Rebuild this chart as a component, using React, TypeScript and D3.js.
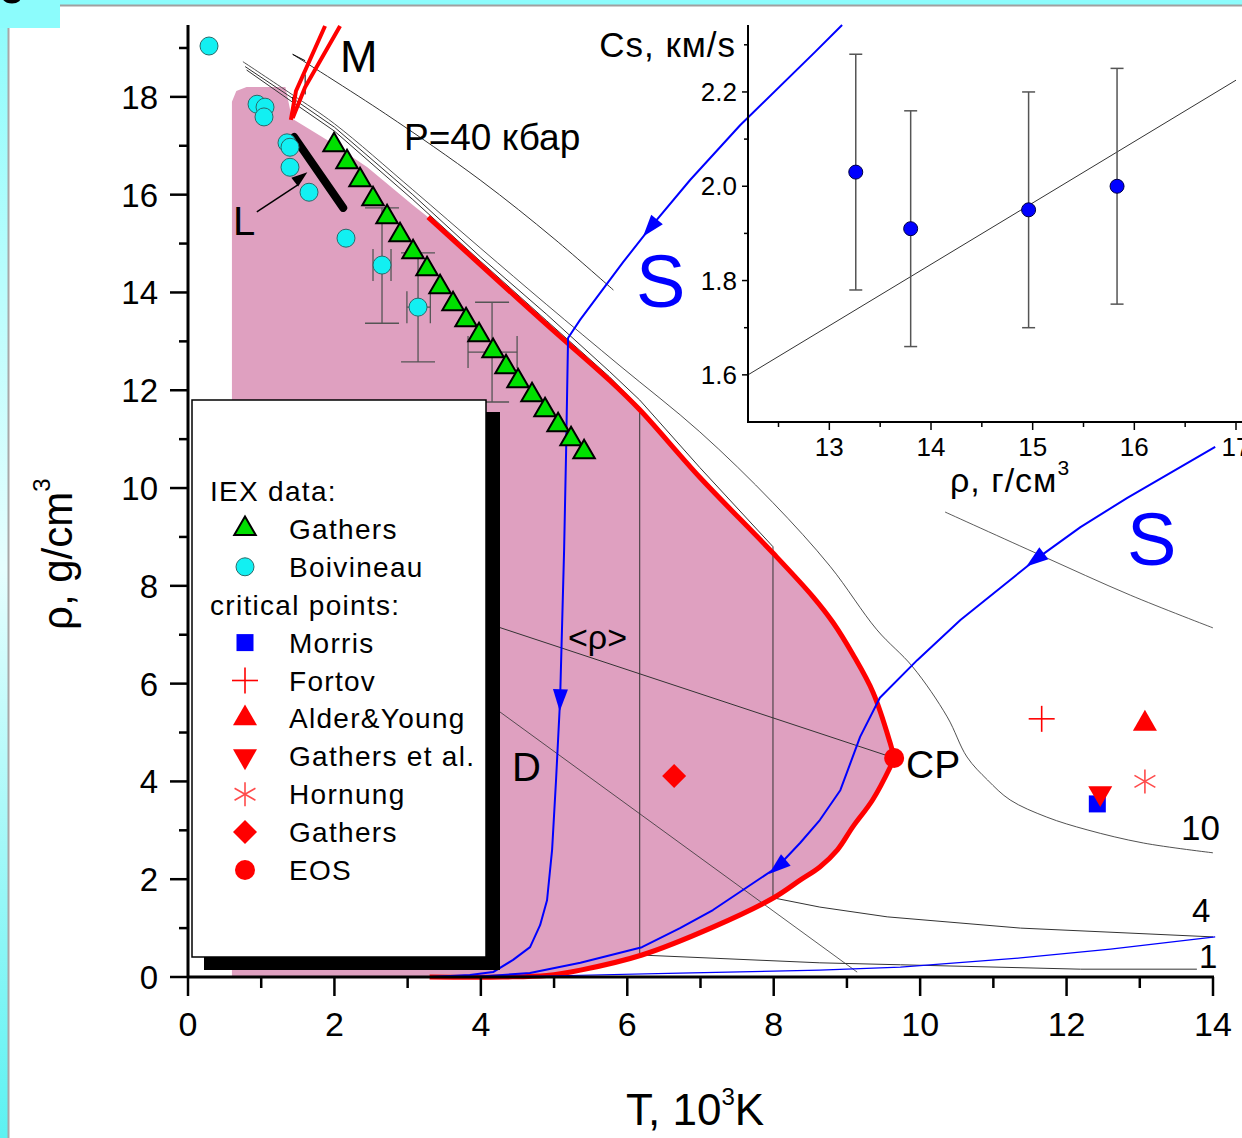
import React from 'react';
import * as d3 from 'd3';

const W = 1242;
const H = 1138;
const FONT = '"Liberation Sans", Arial, sans-serif';

// ---------- main axes ticks ----------
const xMajorTicks = [0, 2, 4, 6, 8, 10, 12, 14];
const xMinorTicks = [1, 3, 5, 7, 9, 11, 13];
const yMajorTicks = [0, 2, 4, 6, 8, 10, 12, 14, 16, 18];
const yMinorTicks = [1, 3, 5, 7, 9, 11, 13, 15, 17, 19];

// ---------- main data (T, 10^3 K ; rho, g/cm^3) ----------
const gathersIEX: [number, number][] = [
  [1.995, 17.055], [2.172, 16.708], [2.35, 16.339], [2.527, 15.951], [2.719, 15.583],
  [2.896, 15.215], [3.074, 14.867], [3.265, 14.519], [3.443, 14.151], [3.62, 13.804],
  [3.798, 13.476], [3.975, 13.17], [4.167, 12.843], [4.344, 12.515], [4.508, 12.229],
  [4.699, 11.943], [4.877, 11.636], [5.055, 11.329], [5.232, 11.043], [5.41, 10.777],
];

const boivineau: [number, number][] = [
  [0.287, 19.04], [0.943, 17.85], [1.052, 17.79], [1.038, 17.59], [1.352, 17.06],
  [1.393, 16.97], [1.393, 16.56], [1.653, 16.05], [2.158, 15.11], [2.65, 14.56], [3.142, 13.7],
];

// error bars: [T, rho, rhoLo, rhoHi, TLo, THi]
const boivErrors: [number, number, number, number, number, number][] = [
  [2.65, 14.56, 13.37, 15.73, 2.527, 2.773],
  [3.142, 13.7, 12.58, 14.81, 2.99, 3.31],
  [4.153, 12.78, 11.76, 13.8, 3.825, 4.495],
];

const pinkLeft: [number, number][] = [
  [0.6, 0], [0.6, 17.9], [0.66, 18.12], [0.8, 18.2], [1.33, 18.2], [1.42, 17.56],
  [1.9, 17.12], [2.45, 16.56], [3.07, 15.79],
];

const binodalUpper: [number, number][] = [
  [3.28, 15.54], [4.0, 14.56], [4.9, 13.34], [5.76, 12.2], [6.17, 11.6], [6.99, 10.22],
  [7.99, 8.67], [8.54, 7.77], [8.81, 7.25], [9.08, 6.6], [9.36, 5.81], [9.59, 4.79], [9.645, 4.48],
];
const binodalLower: [number, number][] = [
  [9.645, 4.48], [9.59, 4.29], [9.35, 3.62], [9.08, 3.07], [8.87, 2.6], [8.63, 2.25],
  [8.36, 1.98], [8.0, 1.62], [7.17, 1.02], [6.2, 0.45], [5.36, 0.14], [4.9, 0.03], [4.3, 0.0], [3.3, 0.0],
];

const iso40: [number, number][] = [[1.43, 18.87], [2.7, 17.65], [3.99, 16.3], [5.0, 15.1], [5.81, 14.05]];
const iso10: [number, number][] = [
  [0.75, 18.72], [1.42, 18.05], [2.0, 17.45], [3.07, 16.1], [4.0, 14.9], [4.9, 13.75],
  [5.9, 12.5], [6.99, 11.15], [7.99, 9.7], [8.77, 8.4], [9.41, 7.1], [9.9, 6.34],
  [10.37, 5.32], [10.64, 4.5], [10.92, 4.03], [11.23, 3.62], [11.73, 3.27], [12.28, 3.01],
  [13.05, 2.74], [14.0, 2.54],
];
const iso4: [number, number][] = [
  [0.78, 18.62], [1.42, 17.98], [2.0, 17.38], [3.07, 16.0], [4.0, 14.72], [4.9, 13.55],
  [5.76, 12.38], [6.17, 11.8], [6.99, 10.42], [7.99, 8.8], [7.99, 1.62], [8.63, 1.43],
  [9.55, 1.23], [11.37, 1.0], [14.0, 0.82],
];
const iso1: [number, number][] = [
  [0.8, 18.55], [1.42, 17.9], [2.0, 17.3], [3.07, 15.9], [4.0, 14.63], [4.9, 13.42],
  [5.76, 12.27], [6.17, 11.65], [6.17, 0.45], [8.63, 0.29], [9.73, 0.25], [12.19, 0.16], [13.78, 0.16],
];
const upperRightLine: [number, number][] = [[10.34, 9.51], [11.64, 8.63], [12.87, 7.81], [14.0, 7.14]];
const meanRhoLine: [number, number][] = [[3.0, 7.77], [9.645, 4.48]];
const dLine: [number, number][] = [[3.5, 6.25], [9.14, 0.1]];
const lLine: [number, number][] = [[1.45, 17.18], [2.12, 15.73]];

const meltA: [number, number][] = [[1.405, 17.53], [1.475, 18.12], [1.872, 19.45]];
const meltB: [number, number][] = [[1.43, 17.57], [1.6, 18.2], [2.077, 19.45]];

const adiabatS1: [number, number][] = [
  [8.934, 19.47], [8.566, 18.92], [7.541, 17.42], [6.858, 16.3], [6.311, 15.32], [5.943, 14.62],
  [5.355, 13.44], [5.191, 13.07], [5.164, 10.72], [5.137, 8.73], [5.082, 5.66], [5.027, 4.03],
  [4.973, 2.6], [4.904, 1.57], [4.809, 1.06], [4.672, 0.61], [4.44, 0.35], [4.167, 0.1],
  [3.85, 0.04], [3.31, 0.0],
];
const s1Arrows = [4, 10];
const adiabatS2: [number, number][] = [
  [14.03, 10.84], [12.83, 9.8], [12.19, 9.2], [11.57, 8.53], [11.09, 7.95], [10.55, 7.3],
  [9.96, 6.48], [9.45, 5.71], [9.18, 4.91], [8.91, 3.82], [8.63, 3.21], [8.36, 2.74],
  [8.05, 2.25], [7.64, 1.84], [7.17, 1.37], [6.72, 1.0], [6.2, 0.61], [5.36, 0.29],
  [4.67, 0.08], [3.99, 0.01], [3.3, 0.0],
];
const s2Arrows = [3, 12];
const adiabatS3: [number, number][] = [
  [3.3, 0.0], [4.9, 0.02], [6.72, 0.08], [8.63, 0.14], [9.73, 0.2], [11.37, 0.39], [12.6, 0.57], [14.03, 0.82],
];

// critical points
const cpMorris: [number, number] = [12.42, 3.54];
const cpFortov: [number, number] = [11.66, 5.28];
const cpAlder: [number, number] = [13.07, 5.18];
const cpGathersEtAl: [number, number] = [12.46, 3.76];
const cpHornung: [number, number] = [13.07, 4.0];
const cpGathers: [number, number] = [6.64, 4.11];
const cpEOS: [number, number] = [9.645, 4.48];

// ---------- inset ----------
const insetXMajor = [13, 14, 15, 16, 17];
const insetXMinor = [12.5, 13.5, 14.5, 15.5, 16.5];
const insetYMajor = [1.6, 1.8, 2.0, 2.2];
const insetYMinor = [1.7, 1.9, 2.1, 2.3];
const insetRho = [13.26, 13.8, 14.96, 15.83];
const insetCs = [2.03, 1.91, 1.95, 2.0];
const insetErr = [0.25, 0.25, 0.25, 0.25];
const insetFit: [number, number][] = [[12.2, 1.6], [17.0, 2.225]];

// legend
const legendItems: { sym: string | null; label: string }[] = [
  { sym: null, label: 'IEX data:' },
  { sym: 'gtri', label: 'Gathers' },
  { sym: 'cyan', label: 'Boivineau' },
  { sym: null, label: 'critical points:' },
  { sym: 'bsq', label: 'Morris' },
  { sym: 'plus', label: 'Fortov' },
  { sym: 'rtri', label: 'Alder&Young' },
  { sym: 'rdtri', label: 'Gathers et al.' },
  { sym: 'aster', label: 'Hornung' },
  { sym: 'diam', label: 'Gathers' },
  { sym: 'rcirc', label: 'EOS' },
];

const x = d3.scaleLinear().domain([0, 14]).range([188, 1213]);
const y = d3.scaleLinear().domain([0, 19.47]).range([977, 25]);
const xi = d3.scaleLinear().domain([12.2, 17.0]).range([748, 1236]);
const yi = d3.scaleLinear().domain([1.5, 2.342]).range([422, 25]);

const line = d3.line<[number, number]>().x((d) => x(d[0])).y((d) => y(d[1]));
const smooth = d3.line<[number, number]>().x((d) => x(d[0])).y((d) => y(d[1])).curve(d3.curveCatmullRom.alpha(0.5));

function arrow(pts: [number, number][], i: number, key: string) {
  const x0 = x(pts[i - 1][0]), y0 = y(pts[i - 1][1]);
  const x1 = x(pts[i + 1][0]), y1 = y(pts[i + 1][1]);
  const a = Math.atan2(y1 - y0, x1 - x0);
  const cx = x(pts[i][0]), cy = y(pts[i][1]);
  const L = 22, Wd = 15;
  const dx = Math.cos(a), dy = Math.sin(a);
  const px = -dy, py = dx;
  const tip = [cx + dx * L / 2, cy + dy * L / 2];
  const b1 = [cx - dx * L / 2 + px * Wd / 2, cy - dy * L / 2 + py * Wd / 2];
  const b2 = [cx - dx * L / 2 - px * Wd / 2, cy - dy * L / 2 - py * Wd / 2];
  return <polygon key={key} points={`${tip[0]},${tip[1]} ${b1[0]},${b1[1]} ${b2[0]},${b2[1]}`} fill="#0000ff" />;
}

function symbol(type: string, cx: number, cy: number, key: string) {
  switch (type) {
    case 'gtri':
      return <path key={key} d={d3.symbol(d3.symbolTriangle, 200)()!} transform={`translate(${cx},${cy})`} fill="#00e000" stroke="#000" strokeWidth={2} />;
    case 'cyan':
      return <circle key={key} cx={cx} cy={cy} r={9} fill="#12f0f2" stroke="#2a6a6a" strokeWidth={1} />;
    case 'bsq':
      return <rect key={key} x={cx - 8.5} y={cy - 8.5} width={17} height={17} fill="#0000ff" />;
    case 'plus':
      return (
        <g key={key} stroke="#ff0000" strokeWidth={1.6}>
          <line x1={cx - 13} y1={cy} x2={cx + 13} y2={cy} />
          <line x1={cx} y1={cy - 13} x2={cx} y2={cy + 13} />
        </g>
      );
    case 'rtri':
      return <path key={key} d={d3.symbol(d3.symbolTriangle, 250)()!} transform={`translate(${cx},${cy})`} fill="#ff0000" />;
    case 'rdtri':
      return <path key={key} d={d3.symbol(d3.symbolTriangle, 250)()!} transform={`translate(${cx},${cy}) rotate(180)`} fill="#ff0000" />;
    case 'aster': {
      const r = 12;
      return (
        <g key={key} stroke="#ff4a4a" strokeWidth={1.6}>
          <line x1={cx} y1={cy - r} x2={cx} y2={cy + r} />
          <line x1={cx - r * 0.87} y1={cy - r * 0.5} x2={cx + r * 0.87} y2={cy + r * 0.5} />
          <line x1={cx - r * 0.87} y1={cy + r * 0.5} x2={cx + r * 0.87} y2={cy - r * 0.5} />
        </g>
      );
    }
    case 'diam': {
      const r = 12;
      return <polygon key={key} points={`${cx},${cy - r} ${cx + r},${cy} ${cx},${cy + r} ${cx - r},${cy}`} fill="#ff0000" />;
    }
    case 'rcirc':
      return <circle key={key} cx={cx} cy={cy} r={10} fill="#ff0000" />;
  }
  return null;
}

export default function App() {
  const pinkPoly = [...pinkLeft, ...binodalUpper, ...binodalLower.slice(1)];
  const pinkPath = line(pinkPoly) + 'Z';
  const legendRowY = (i: number) => 491 + i * 37.9;

  return (
    <div style={{ position: 'absolute', left: 0, top: 0 }}>
      <svg width={W} height={H} viewBox={`0 0 ${W} ${H}`} style={{ display: 'block', fontFamily: FONT }}>
        <defs>
          <linearGradient id="leftStrip" x1="0" y1="0" x2="0" y2="1">
            <stop offset="0" stopColor="#8cfcfc" />
            <stop offset="0.5" stopColor="#e6fefe" />
            <stop offset="1" stopColor="#5cf2f2" />
          </linearGradient>
        </defs>
        {/* frame */}
        <rect x={0} y={0} width={W} height={H} fill="#ffffff" />
        <rect x={0} y={0} width={W} height={5} fill="#8cfcfc" />
        <rect x={0} y={0} width={8} height={H} fill="url(#leftStrip)" />
        <line x1={60} y1={5.5} x2={W} y2={5.5} stroke="#a0a0a0" strokeWidth={2} />
        <line x1={8.5} y1={28} x2={8.5} y2={H} stroke="#a8a8a8" strokeWidth={2} />
        <rect x={0} y={0} width={60} height={28} fill="#8cfcfc" />
        <text x={-2} y={3} fontSize={52} fill="#000">c</text>

        {/* two-phase region */}
        <path d={pinkPath} fill="#dfa0c0" />

        {/* isobars */}
        <g fill="none" stroke="#333" strokeWidth={1}>
          <path d={smooth(iso40)!} />
          <path d={smooth(iso10)!} strokeOpacity={0.85} />
          <path d={line(iso4)!} />
          <path d={line(iso1)!} />
          <path d={smooth(upperRightLine)!} strokeOpacity={0.8} />
          <path d={line(meanRhoLine)!} />
          <path d={line(dLine)!} strokeOpacity={0.8} />
        </g>
        {/* small melting box ticks */}
        <g stroke="#000" strokeWidth={1}>
          <line x1={x(1.43)} y1={y(18.0)} x2={x(1.43)} y2={y(17.55)} />
          <line x1={x(1.6)} y1={y(18.46)} x2={x(1.6)} y2={y(18.05)} />
          <line x1={x(1.43)} y1={y(18.87)} x2={x(1.6)} y2={y(18.74)} />
        </g>

        {/* binodal */}
        <path d={smooth(binodalUpper)!} fill="none" stroke="#ff0000" strokeWidth={5} strokeLinejoin="round" />
        <path d={smooth(binodalLower)!} fill="none" stroke="#ff0000" strokeWidth={5} strokeLinejoin="round" />
        {/* melting line M */}
        <path d={line(meltA)!} fill="none" stroke="#ff0000" strokeWidth={4} />
        <path d={line(meltB)!} fill="none" stroke="#ff0000" strokeWidth={4} />

        {/* adiabats */}
        <path d={line(adiabatS3)!} fill="none" stroke="#0000ff" strokeWidth={1.2} />
        <path d={line(adiabatS1)!} fill="none" stroke="#0000ff" strokeWidth={2} strokeLinejoin="round" />
        <path d={line(adiabatS2)!} fill="none" stroke="#0000ff" strokeWidth={2} strokeLinejoin="round" />
        {s1Arrows.map((i) => arrow(adiabatS1, i, 's1a' + i))}
        {s2Arrows.map((i) => arrow(adiabatS2, i, 's2a' + i))}

        {/* L line and arrow */}
        <path d={line(lLine)!} stroke="#000" strokeWidth={8} strokeLinecap="round" fill="none" />
        <line x1={x(0.94)} y1={y(15.65)} x2={x(1.5)} y2={y(16.2)} stroke="#000" strokeWidth={1.5} />
        {(() => {
          const tx = x(1.63), ty = y(16.46);
          const sx = x(0.94), sy = y(15.65);
          const a = Math.atan2(ty - sy, tx - sx);
          const L = 16, Wd = 11;
          const dx = Math.cos(a), dy = Math.sin(a);
          return (
            <polygon
              points={`${tx},${ty} ${tx - dx * L - dy * Wd / 2},${ty - dy * L + dx * Wd / 2} ${tx - dx * L + dy * Wd / 2},${ty - dy * L - dx * Wd / 2}`}
              fill="#000"
            />
          );
        })()}

        {/* error bars */}
        <g stroke="#555" strokeWidth={1.3}>
          {boivErrors.map((e, i) => (
            <g key={'eb' + i}>
              <line x1={x(e[0])} y1={y(e[2])} x2={x(e[0])} y2={y(e[3])} />
              <line x1={x(e[0]) - 17} y1={y(e[2])} x2={x(e[0]) + 17} y2={y(e[2])} />
              <line x1={x(e[0]) - 17} y1={y(e[3])} x2={x(e[0]) + 17} y2={y(e[3])} />
              <line x1={x(e[4])} y1={y(e[1]) - 16} x2={x(e[4])} y2={y(e[1]) + 16} />
              <line x1={x(e[5])} y1={y(e[1]) - 16} x2={x(e[5])} y2={y(e[1]) + 16} />
              <line x1={x(e[4])} y1={y(e[1])} x2={x(e[5])} y2={y(e[1])} />
            </g>
          ))}
        </g>

        {/* data markers */}
        {boivineau.map((d, i) => symbol('cyan', x(d[0]), y(d[1]), 'bv' + i))}
        {gathersIEX.map((d, i) => symbol('gtri', x(d[0]), y(d[1]) + 2, 'gi' + i))}

        {symbol('diam', x(cpGathers[0]), y(cpGathers[1]), 'cpg')}
        {symbol('bsq', x(cpMorris[0]), y(cpMorris[1]), 'cpm')}
        {symbol('rdtri', x(cpGathersEtAl[0]), y(cpGathersEtAl[1]), 'cpge')}
        {symbol('plus', x(cpFortov[0]), y(cpFortov[1]), 'cpf')}
        {symbol('rtri', x(cpAlder[0]), y(cpAlder[1]), 'cpa')}
        {symbol('aster', x(cpHornung[0]), y(cpHornung[1]), 'cph')}
        {symbol('rcirc', x(cpEOS[0]), y(cpEOS[1]), 'cpe')}

        {/* legend */}
        <rect x={486} y={412} width={14} height={558} fill="#000" />
        <rect x={204} y={957} width={296} height={13} fill="#000" />
        <rect x={192} y={400} width={294} height={557} fill="#fff" stroke="#000" strokeWidth={1.5} />
        {legendItems.map((it, i) => (
          <g key={'lg' + i}>
            {it.sym ? symbol(it.sym, 245, legendRowY(i), 'ls' + i) : null}
            <text
              x={it.sym ? 289 : 210}
              y={legendRowY(i) + 10}
              fontSize={28}
              letterSpacing={1.3}
              fill="#000"
            >
              {it.label}
            </text>
          </g>
        ))}

        {/* main axes */}
        <g stroke="#000">
          <line x1={188} y1={977} x2={1214} y2={977} strokeWidth={3} />
          <line x1={188} y1={978} x2={188} y2={25} strokeWidth={3} />
          {xMajorTicks.map((t) => (
            <line key={'xM' + t} x1={x(t)} y1={977} x2={x(t)} y2={996} strokeWidth={2.5} />
          ))}
          {xMinorTicks.map((t) => (
            <line key={'xm' + t} x1={x(t)} y1={977} x2={x(t)} y2={988} strokeWidth={2.5} />
          ))}
          {yMajorTicks.map((t) => (
            <line key={'yM' + t} x1={170} y1={y(t)} x2={188} y2={y(t)} strokeWidth={2.5} />
          ))}
          {yMinorTicks.map((t) => (
            <line key={'ym' + t} x1={179} y1={y(t)} x2={188} y2={y(t)} strokeWidth={2.5} />
          ))}
        </g>
        {xMajorTicks.map((t) => (
          <text key={'xl' + t} x={x(t)} y={1036} fontSize={34} textAnchor="middle" fill="#000">{t}</text>
        ))}
        {yMajorTicks.map((t) => (
          <text key={'yl' + t} x={158} y={y(t) + 12} fontSize={33} textAnchor="end" fill="#000">{t}</text>
        ))}
        <text x={626} y={1125} fontSize={44} fill="#000">
          T, 10<tspan dy={-20} fontSize={24}>3</tspan><tspan dy={20}>K</tspan>
        </text>
        <text transform="translate(72,630) rotate(-90)" fontSize={42} fill="#000">
          ρ, g/cm<tspan dy={-22} fontSize={24}>3</tspan>
        </text>

        {/* annotations */}
        <text x={340} y={72} fontSize={45} fill="#000">M</text>
        <text x={233} y={235} fontSize={40} fill="#000">L</text>
        <text x={404} y={150} fontSize={37} fill="#000">P=40 кбар</text>
        <text x={636} y={307} fontSize={74} fill="#0000ff">S</text>
        <text x={1127} y={565} fontSize={74} fill="#0000ff">S</text>
        <text x={568} y={649} fontSize={34} fill="#000">&lt;ρ&gt;</text>
        <text x={512} y={781} fontSize={40} fill="#000">D</text>
        <text x={906} y={778} fontSize={39} fill="#000">CP</text>
        <text x={1181} y={840} fontSize={35} fill="#000">10</text>
        <text x={1192} y={922} fontSize={33} fill="#000">4</text>
        <text x={1199} y={968} fontSize={33} fill="#000">1</text>

        {/* inset */}
        <path
          d={d3.line<[number, number]>().x((d) => xi(d[0])).y((d) => yi(d[1]))(insetFit)!}
          stroke="#333"
          strokeWidth={1}
          fill="none"
        />
        <g stroke="#555" strokeWidth={1.5}>
          {insetRho.map((r, i) => (
            <g key={'ie' + i}>
              <line x1={xi(r)} y1={yi(insetCs[i] - insetErr[i])} x2={xi(r)} y2={yi(insetCs[i] + insetErr[i])} />
              <line x1={xi(r) - 6.5} y1={yi(insetCs[i] - insetErr[i])} x2={xi(r) + 6.5} y2={yi(insetCs[i] - insetErr[i])} />
              <line x1={xi(r) - 6.5} y1={yi(insetCs[i] + insetErr[i])} x2={xi(r) + 6.5} y2={yi(insetCs[i] + insetErr[i])} />
            </g>
          ))}
        </g>
        {insetRho.map((r, i) => (
          <circle key={'ip' + i} cx={xi(r)} cy={yi(insetCs[i])} r={7} fill="#0000ff" stroke="#000044" strokeWidth={1} />
        ))}
        <g stroke="#000">
          <line x1={748} y1={422} x2={1242} y2={422} strokeWidth={2} />
          <line x1={748} y1={423} x2={748} y2={25} strokeWidth={2} />
          {insetXMajor.map((t) => (
            <line key={'ixM' + t} x1={xi(t)} y1={422} x2={xi(t)} y2={430} strokeWidth={1.5} />
          ))}
          {insetXMinor.map((t) => (
            <line key={'ixm' + t} x1={xi(t)} y1={422} x2={xi(t)} y2={427} strokeWidth={1.5} />
          ))}
          {insetYMajor.map((t) => (
            <line key={'iyM' + t} x1={742} y1={yi(t)} x2={748} y2={yi(t)} strokeWidth={1.5} />
          ))}
          {insetYMinor.map((t) => (
            <line key={'iym' + t} x1={744} y1={yi(t)} x2={748} y2={yi(t)} strokeWidth={1.5} />
          ))}
        </g>
        {insetXMajor.map((t) => (
          <text key={'ixl' + t} x={xi(t)} y={456} fontSize={26} textAnchor="middle" fill="#000">{t}</text>
        ))}
        {insetYMajor.map((t) => (
          <text key={'iyl' + t} x={737} y={yi(t) + 9} fontSize={26} textAnchor="end" fill="#000">{t.toFixed(1)}</text>
        ))}
        <text x={736} y={57} fontSize={35} letterSpacing={1} textAnchor="end" fill="#000">Cs, км/s</text>
        <text x={950} y={492} fontSize={34} letterSpacing={1} fill="#000">
          ρ, г/см<tspan dy={-17} fontSize={21}>3</tspan>
        </text>
      </svg>
    </div>
  );
}
